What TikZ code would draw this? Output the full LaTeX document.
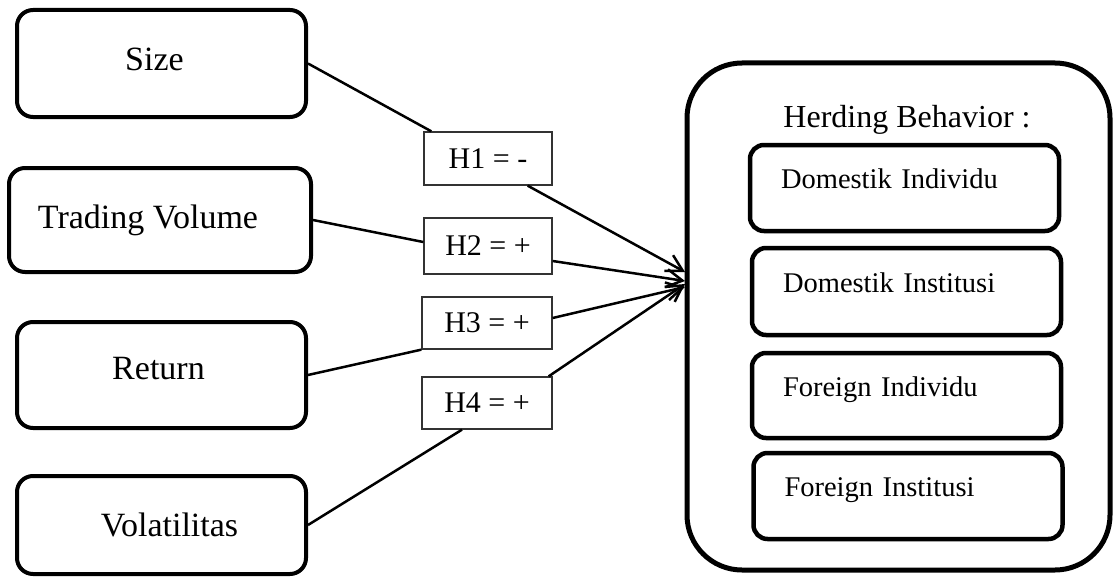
\documentclass[tikz,border=0pt]{standalone}
\usepackage{fontspec}
\setmainfont{Liberation Serif}
\usetikzlibrary{arrows.meta}
\begin{document}
\begin{tikzpicture}[x=1pt,y=-1pt,
  varbox/.style={draw, line width=4pt, rounded corners=16pt, align=center, inner sep=0pt,
    font=\fontsize{34}{40}\selectfont},
  hbox/.style={draw=black!80, line width=1.3pt, inner sep=0pt,
    font=\fontsize{30}{36}\selectfont},
  outerbox/.style={draw, line width=5pt, rounded corners=55pt, inner sep=0pt},
  grpbox/.style={draw, line width=4.5pt, rounded corners=14pt, align=left,
    inner xsep=31pt, inner ysep=0pt, text width=247pt, text depth=18pt,
    font=\fontsize{28.5}{34}\selectfont},
  grptitle/.style={font=\fontsize{32}{38}\selectfont},
  conn/.style={line width=2.5pt},
  arr/.style={conn, -{Straight Barb[length=16pt,width=18pt]}}
]
\useasboundingbox (0,0) rectangle (1114,578);

% left variable boxes
\node[varbox, minimum width=289pt, minimum height=107pt, text depth=8pt] (size) at (161.5,63.5) {\hspace*{-14pt}Size};
\node[varbox, minimum width=302pt, minimum height=104pt] (vol) at (160,220) {\hspace*{-24pt}Trading Volume};
\node[varbox, minimum width=289pt, minimum height=106pt, text depth=14pt] (ret) at (161.5,375) {\hspace*{-6pt}Return};
\node[varbox, minimum width=289pt, minimum height=98pt] (vola) at (161.5,525) {\hspace*{16pt}Volatilitas};

% hypothesis boxes
\node[hbox, minimum width=128pt, minimum height=53pt] (h1) at (488,158.5) {H1 = -};
\node[hbox, minimum width=128pt, minimum height=56pt] (h2) at (488,246) {H2 = +};
\node[hbox, minimum width=130pt, minimum height=52pt] (h3) at (487,323) {H3 = +};
\node[hbox, minimum width=130pt, minimum height=52pt] (h4) at (487,403) {H4 = +};

% herding behavior group
\node[outerbox, minimum width=423pt, minimum height=507pt] (herd) at (898.5,316.5) {};
\node[grptitle] (htitle) at (907,120) {Herding Behavior :};
\node[grpbox, minimum height=86pt] (di) at (904.5,188) {Domestik Individu};
\node[grpbox, minimum height=87pt] (dn) at (906.5,291.5) {Domestik Institusi};
\node[grpbox, minimum height=85pt] (fi) at (906.5,395.5) {Foreign Individu};
\node[grpbox, minimum height=86pt] (fn) at (908,496) {Foreign Institusi};

% arrow tips on the group box
\coordinate (t1) at (685,272);
\coordinate (t2) at (685,281);
\coordinate (t3) at (685,287);
\coordinate (t4) at (685,284);

% connectors
\draw[conn] (size.east) -- ([xshift=8pt]h1.north west);
\draw[arr] ([xshift=-25pt]h1.south east) -- (t1);
\draw[conn] (vol.east) -- ([yshift=4pt]h2.west);
\draw[arr] ([yshift=-15pt]h2.east) -- (t2);
\draw[conn] (ret.east) -- (h3.south west);
\draw[arr] ([yshift=5pt]h3.east) -- (t3);
\draw[conn] (vola.east) -- ([xshift=-25pt]h4.south);
\draw[arr] ([xshift=-4pt]h4.north east) -- (t4);
\end{tikzpicture}
\end{document}
